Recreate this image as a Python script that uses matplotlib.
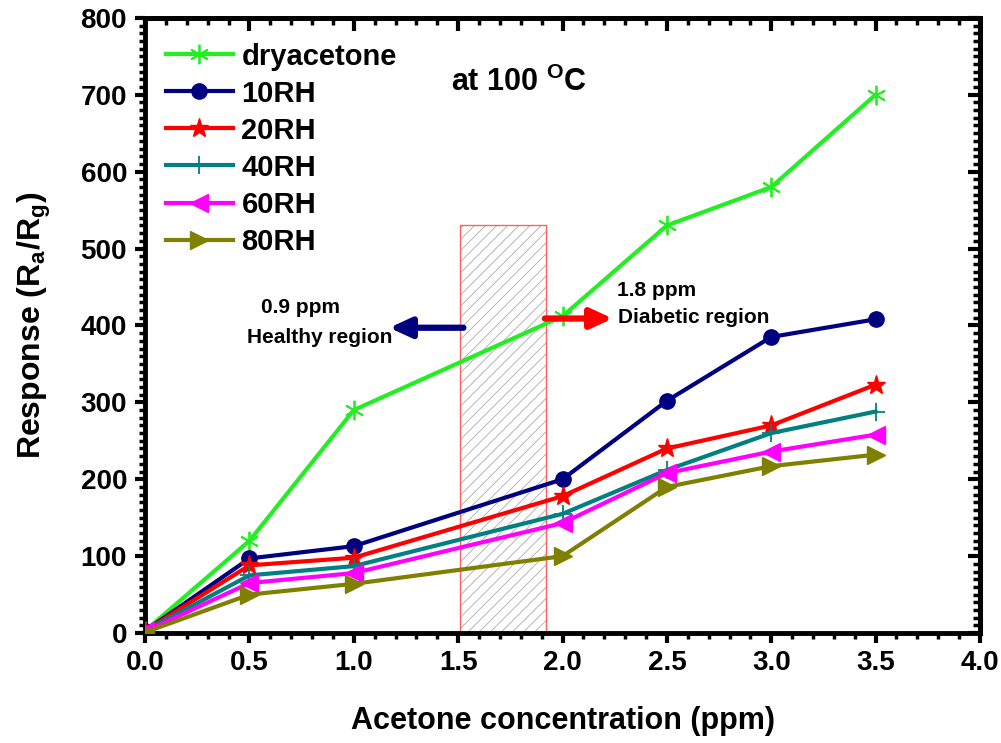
import matplotlib
matplotlib.use('Agg')
import matplotlib.pyplot as plt
from matplotlib.patches import Rectangle
from matplotlib.ticker import MultipleLocator

# Daten
conc = [0.0, 0.5, 1.0, 2.0, 2.5, 3.0, 3.5]
dry_acetone = [3, 120, 290, 412, 530, 580, 700]
rh10 = [3, 97, 113, 200, 302, 385, 408]
rh20 = [3, 88, 98, 178, 240, 270, 323]
rh40 = [3, 75, 87, 155, 212, 260, 288]
rh60 = [2, 65, 78, 143, 208, 236, 258]
rh80 = [1, 50, 64, 100, 190, 217, 232]

series_labels = ['dryacetone', '10RH', '20RH', '40RH', '60RH', '80RH']
series_values = [dry_acetone, rh10, rh20, rh40, rh60, rh80]

# Konfiguration
COLORS = ['#22EE22', '#000080', '#FF0000', '#008080', '#FF00FF', '#808000']
MARKERS = [(6, 2, 0), 'o', '*', '+', '<', '>']
MSIZES = [14, 11, 14, 13, 13, 13]
HEALTHY_X = (1.51, 1.92)
HEALTHY_TOP = 530

plt.rcParams['font.family'] = ['Liberation Sans', 'DejaVu Sans']
plt.rcParams['font.weight'] = 'bold'
plt.rcParams['mathtext.fontset'] = 'custom'
plt.rcParams['mathtext.rm'] = 'Liberation Sans:bold'
plt.rcParams['mathtext.bf'] = 'Liberation Sans:bold'
plt.rcParams['mathtext.it'] = 'Liberation Sans:bold'
plt.rcParams['hatch.linewidth'] = 0.6

fig = plt.figure(figsize=(10.01, 7.43), dpi=100)
ax = fig.add_axes([0.145, 0.148, 0.834, 0.828])

# Schraffierter Bereich
ax.add_patch(Rectangle((HEALTHY_X[0], 0), HEALTHY_X[1] - HEALTHY_X[0], HEALTHY_TOP,
                       facecolor='none', edgecolor='#AAAAAA', hatch='///',
                       linewidth=0, zorder=1))
ax.add_patch(Rectangle((HEALTHY_X[0], 0), HEALTHY_X[1] - HEALTHY_X[0], HEALTHY_TOP,
                       fill=False, edgecolor='#FF6060', linewidth=1.0, zorder=1))

for label, vals, color, marker, ms in zip(series_labels, series_values, COLORS, MARKERS, MSIZES):
    mew = 1.3 if marker in ['+', (6, 2, 0)] else 1
    ax.plot(conc, vals, color=color, marker=marker, markersize=ms, linewidth=3,
            markeredgewidth=mew, label=label, zorder=3)

ax.set_xlim(0, 4)
ax.set_ylim(0, 800)
ax.xaxis.set_major_locator(MultipleLocator(0.5))
ax.xaxis.set_minor_locator(MultipleLocator(0.1))
ax.yaxis.set_major_locator(MultipleLocator(100))
ax.yaxis.set_minor_locator(MultipleLocator(10))
ax.xaxis.set_major_formatter(plt.FuncFormatter(lambda v, p: f'{v:.1f}'))

for s in ax.spines.values():
    s.set_linewidth(3.5)
ax.tick_params(which='major', direction='out', length=7, width=3, pad=5)
ax.tick_params(which='minor', direction='out', length=4.5, width=2.5)
ax.tick_params(axis='y', labelsize=20, pad=6)
ax.tick_params(axis='x', labelsize=20)
for t in ax.get_xticklabels() + ax.get_yticklabels():
    t.set_fontweight('bold')

# Achsen oben und rechts mit Ticks nach innen
secx = ax.secondary_xaxis('top')
secx.xaxis.set_major_locator(MultipleLocator(0.5))
secx.xaxis.set_minor_locator(MultipleLocator(0.1))
secx.tick_params(which='major', direction='in', length=9, width=3, labeltop=False)
secx.tick_params(which='minor', direction='in', length=5, width=2.5)
secx.spines['top'].set_linewidth(3.5)

secy = ax.secondary_yaxis('right')
secy.yaxis.set_major_locator(MultipleLocator(100))
secy.yaxis.set_minor_locator(MultipleLocator(10))
secy.tick_params(which='major', direction='in', length=9, width=3, labelright=False)
secy.tick_params(which='minor', direction='in', length=5, width=2.5)
secy.spines['right'].set_linewidth(3.5)

ax.set_xlabel('Acetone concentration (ppm)', fontsize=22, fontweight='bold', labelpad=22)
ax.set_ylabel(r'Response (R$_{\mathbf{a}}$/R$_{\mathbf{g}}$)', fontsize=23,
              fontweight='bold', labelpad=20)

# Legende
ax.legend(loc='upper left', bbox_to_anchor=(0.0, 0.993), frameon=False, fontsize=21,
          handlelength=2.3, handletextpad=0.3, labelspacing=0.31, borderaxespad=0.3)

# Beschriftungen
ax.text(1.79, 716, r'at 100 $^{\mathbf{O}}$C', fontsize=22, fontweight='bold',
        ha='center', va='center')
ax.text(0.7425, 423, '0.9 ppm', fontsize=15, fontweight='bold', ha='center', va='center')
ax.text(0.834, 384, 'Healthy region', fontsize=15, fontweight='bold', ha='center', va='center')
ax.text(2.26, 446, '1.8 ppm', fontsize=15, fontweight='bold', ha='left', va='center')
ax.text(2.265, 410, 'Diabetic region', fontsize=15, fontweight='bold', ha='left', va='center')

ax.annotate('', xy=(1.17, 397), xytext=(1.525, 397),
            arrowprops=dict(arrowstyle='-|>,head_length=1.3,head_width=0.6', lw=4.5,
                            color='#000080', shrinkA=0, shrinkB=0))
ax.annotate('', xy=(2.24, 409), xytext=(1.915, 409),
            arrowprops=dict(arrowstyle='-|>,head_length=1.3,head_width=0.6', lw=4.5,
                            color='#FF0000', shrinkA=0, shrinkB=0))

plt.savefig('out.png', dpi=100)
plt.close(fig)
